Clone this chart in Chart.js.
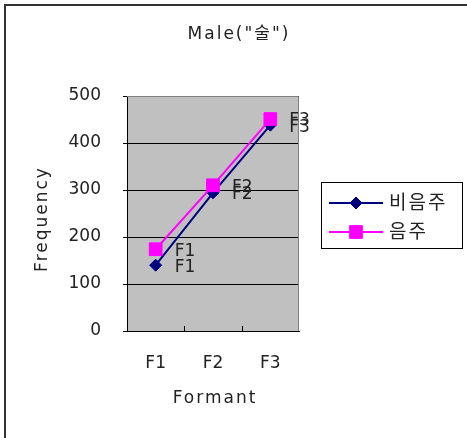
<!DOCTYPE html>
<html>
<head>
<meta charset="utf-8">
<script src="https://cdn.jsdelivr.net/npm/chart.js@4/dist/chart.umd.min.js"></script>
<style>
  html, body { margin: 0; padding: 0; background: #fff; }
  #wrap { position: relative; width: 467px; height: 438px; overflow: hidden; }
  #frame {
    position: absolute; left: 4px; top: 4px; width: 480px; height: 460px;
    border-left: 2px solid #333; border-top: 2px solid #333;
    box-sizing: border-box; pointer-events: none;
  }
  canvas { position: absolute; left: 0; top: 0; }
</style>
</head>
<body>
<div id="wrap">
  <canvas id="formantChart" width="467" height="438"></canvas>
  <div id="frame"></div>
</div>
<script>
// Data
const chartTitle = 'Male("술")';
const xTitle = "Formant";
const yTitle = "Frequency";
const categories = ["F1", "F2", "F3"];
const seriesNames = ["비음주", "음주"];
const nonDrinking = [140, 294, 438];
const drinking = [174, 310, 451];
const yTicks = [0, 100, 200, 300, 400, 500];

const FONT = "'DejaVu Sans', 'Noto Sans CJK KR', sans-serif";
const TEXT = "#222";

// helper: text with wide (Gulim-like) spacing
function spacedText(ctx, text, x, y, size, rotate) {
  ctx.save();
  ctx.letterSpacing = "2px";
  ctx.font = size + "px " + FONT;
  ctx.fillStyle = TEXT;
  ctx.textAlign = "center";
  ctx.textBaseline = "middle";
  ctx.translate(x, y);
  if (rotate) ctx.rotate(-Math.PI / 2);
  ctx.fillText(text, 1, 0);
  ctx.restore();
}

// Titles, plot frame, inner ticks, point labels and boxed legend
const extrasPlugin = {
  id: "extras",
  afterDraw(chart) {
    const { ctx, chartArea: a, scales } = chart;
    ctx.save();

    spacedText(ctx, chartTitle, 238, 35, 17);
    spacedText(ctx, xTitle, 214, 399, 17);
    spacedText(ctx, yTitle, 43, 220, 17, true);

    // gray frame on top / right of plot
    ctx.strokeStyle = "#808080";
    ctx.lineWidth = 1;
    ctx.beginPath();
    ctx.moveTo(a.left, a.top + 0.5);
    ctx.lineTo(a.right - 0.5, a.top + 0.5);
    ctx.lineTo(a.right - 0.5, a.bottom);
    ctx.stroke();

    // inner tick marks between categories
    const x = scales.x;
    ctx.strokeStyle = "#000";
    ctx.beginPath();
    for (let i = 0; i < categories.length - 1; i++) {
      const px = Math.round((x.getPixelForTick(i) + x.getPixelForTick(i + 1)) / 2) + 0.5;
      ctx.moveTo(px, a.bottom);
      ctx.lineTo(px, a.bottom - 5);
    }
    ctx.stroke();

    // category labels next to each point
    ctx.font = "17px " + FONT;
    ctx.textAlign = "left";
    ctx.textBaseline = "middle";
    ctx.fillStyle = TEXT;
    chart.data.datasets.forEach((ds, di) => {
      chart.getDatasetMeta(di).data.forEach((pt, i) => {
        ctx.fillText(categories[i], pt.x + 19, pt.y + 2);
      });
    });

    // legend box
    const lx = 321, ly = 182, lw = 141, lh = 66;
    ctx.fillStyle = "#fff";
    ctx.fillRect(lx, ly, lw, lh);
    ctx.strokeStyle = "#000";
    ctx.lineWidth = 1;
    ctx.strokeRect(lx + 0.5, ly + 0.5, lw, lh);
    const rows = [203, 232];
    chart.data.datasets.forEach((ds, di) => {
      const y = rows[di];
      ctx.strokeStyle = ds.borderColor;
      ctx.lineWidth = ds.borderWidth;
      ctx.beginPath();
      ctx.moveTo(329, y);
      ctx.lineTo(383, y);
      ctx.stroke();
      ctx.fillStyle = ds.pointBackgroundColor;
      ctx.strokeStyle = ds.pointBorderColor;
      ctx.lineWidth = 1;
      Chart.helpers.drawPoint(ctx, { pointStyle: ds.pointStyle, radius: ds.pointRadius, borderWidth: 1 }, 356, y);
      ctx.save();
      ctx.letterSpacing = "2px";
      ctx.fillStyle = TEXT;
      ctx.font = "19px " + FONT;
      ctx.textAlign = "left";
      ctx.textBaseline = "middle";
      ctx.fillText(ds.label, 389, y + 1);
      ctx.restore();
    });
    ctx.restore();
  },
};

const plotBgPlugin = {
  id: "plotBg",
  beforeDraw(chart) {
    const { ctx, chartArea: a } = chart;
    ctx.save();
    ctx.fillStyle = "#c0c0c0";
    ctx.fillRect(a.left, a.top, a.right - a.left, a.bottom - a.top);
    ctx.restore();
  },
};

const ctx = document.getElementById("formantChart");
const formantChart = new Chart(ctx, {
  type: "line",
  data: {
    labels: categories,
    datasets: [
      {
        label: seriesNames[0],
        data: nonDrinking,
        borderColor: "#000080",
        backgroundColor: "#000080",
        borderWidth: 2,
        pointStyle: "rectRot",
        pointRadius: 6,
        pointBackgroundColor: "#000080",
        pointBorderColor: "#000080",
        pointBorderWidth: 1,
        tension: 0,
        order: 1,
      },
      {
        label: seriesNames[1],
        data: drinking,
        borderColor: "#ff00ff",
        backgroundColor: "#ff00ff",
        borderWidth: 2,
        pointStyle: "rect",
        pointRadius: 9,
        pointBackgroundColor: "#ff00ff",
        pointBorderColor: "#ff00ff",
        pointBorderWidth: 1,
        tension: 0,
        order: 0,
      },
    ],
  },
  options: {
    responsive: false,
    animation: false,
    events: [],
    layout: { padding: { left: 0, right: 168, top: 96, bottom: 0 } },
    plugins: {
      legend: { display: false },
      title: { display: false },
      tooltip: { enabled: false },
    },
    scales: {
      x: {
        offset: true,
        grid: { display: false, drawTicks: false },
        border: { display: true, color: "#000", width: 1 },
        ticks: { color: TEXT, font: { family: FONT, size: 17 }, padding: 22 },
        afterFit(scale) { scale.height = 107; },
      },
      y: {
        min: yTicks[0],
        max: yTicks[yTicks.length - 1],
        grid: { color: "#000", lineWidth: 1, drawTicks: true, tickLength: 4 },
        border: { display: true, color: "#000", width: 1 },
        ticks: {
          stepSize: yTicks[1] - yTicks[0],
          color: TEXT,
          font: { family: FONT, size: 17 },
          padding: 22,
        },
        afterFit(scale) { scale.width = 127; },
      },
    },
  },
  plugins: [plotBgPlugin, extrasPlugin],
});
</script>
</body>
</html>
